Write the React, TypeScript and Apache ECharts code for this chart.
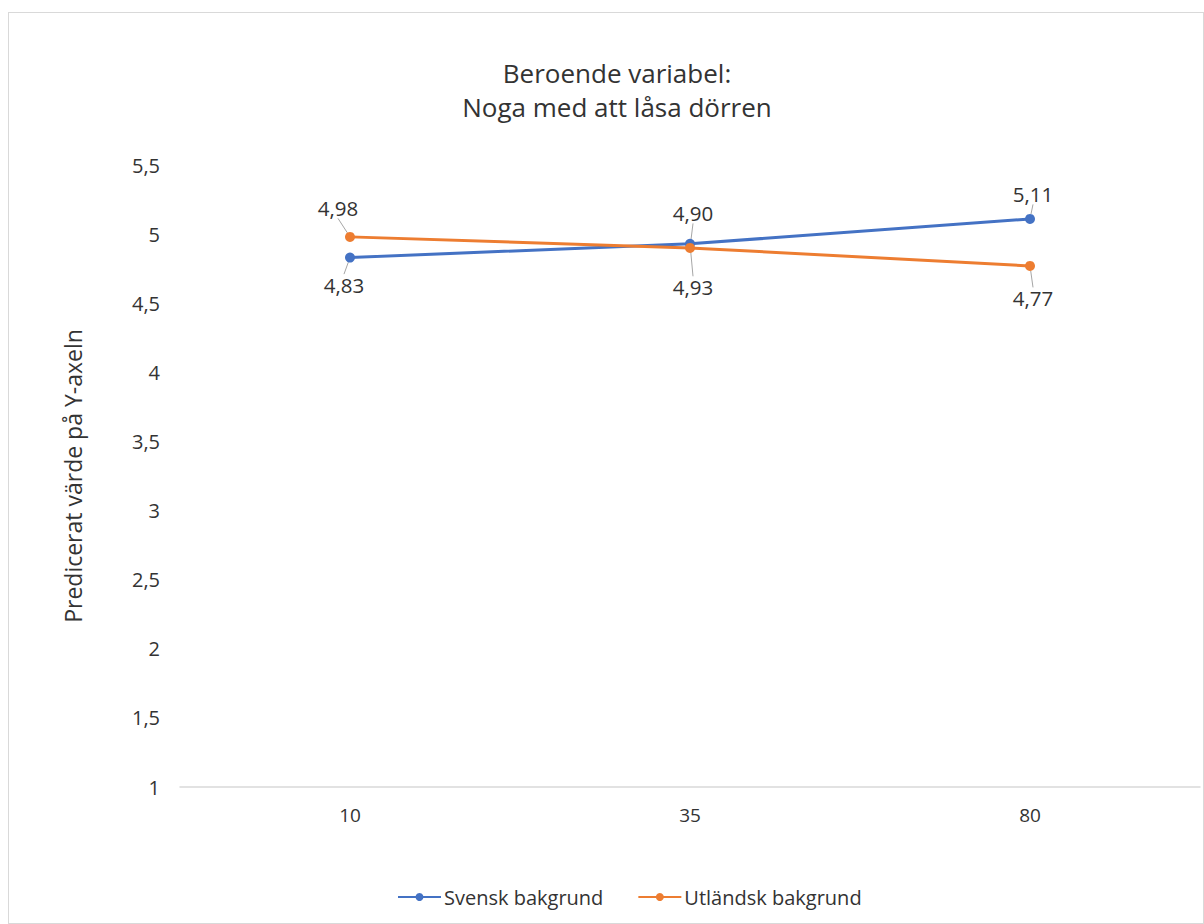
import React, { useEffect, useRef } from "react";
import * as echarts from "echarts";

const categories = ["10", "35", "80"];
const svensk = [4.83, 4.93, 5.11];
const utlandsk = [4.98, 4.9, 4.77];
const seriesNames = ["Svensk bakgrund", "Utländsk bakgrund"];
const titleText = "Beroende variabel:\nNoga med att låsa dörren";
const yAxisName = "Predicerat värde på Y-axeln";

// label displacements (px) per series / point
const labelShift = [
  [[-6, 27], [3, 43], [3, -25]],
  [[-12, -29], [3, -35], [3, 32]],
];

const FONT = "'Open Sans', 'Noto Sans', sans-serif";
const TXT = "#333333";

export default function App() {
  const ref = useRef<HTMLDivElement>(null);
  useEffect(() => {
    if (!ref.current) return;
    const chart = echarts.init(ref.current, undefined, { renderer: "svg" });
    const fmt = (v: number) => v.toFixed(2).replace(".", ",");
    const mkSeries = (name: string, data: number[], color: string, si: number) => ({
      name,
      type: "line",
      data,
      symbol: "circle",
      symbolSize: 10,
      lineStyle: { width: 3, color },
      itemStyle: { color },
      label: {
        show: true,
        position: "inside",
        formatter: (p: any) => fmt(p.value),
        fontFamily: FONT,
        fontSize: 20.5,
        color: TXT,
      },
      labelLine: { show: true, lineStyle: { color: "#a6a6a6", width: 1 } },
      labelLayout: (p: any) => ({
        dx: labelShift[si][p.dataIndex][0],
        dy: labelShift[si][p.dataIndex][1],
      }),
    });
    chart.setOption({
      animation: false,
      backgroundColor: "#ffffff",
      textStyle: { fontFamily: FONT },
      title: {
        text: titleText,
        left: 603,
        textAlign: "center",
        top: 38,
        textStyle: {
          fontFamily: FONT,
          fontSize: 26,
          fontWeight: "normal",
          color: TXT,
          lineHeight: 34,
        },
      },
      legend: {
        left: 383,
        top: 869,
        itemWidth: 43,
        itemHeight: 10,
        itemGap: 34,
        textStyle: { fontFamily: FONT, fontSize: 20, color: TXT, padding: [0, 0, 0, -2] },
        data: seriesNames,
      },
      grid: { left: 171, right: 3, top: 152, bottom: 136 },
      xAxis: {
        type: "category",
        data: categories,
        axisLine: { lineStyle: { color: "#d9d9d9", width: 1.5 } },
        axisTick: { show: false },
        axisLabel: { fontFamily: FONT, fontSize: 19, color: TXT, margin: 18 },
      },
      yAxis: {
        type: "value",
        min: 1,
        max: 5.5,
        interval: 0.5,
        name: yAxisName,
        nameLocation: "middle",
        nameGap: 96,
        nameTextStyle: { fontFamily: FONT, fontSize: 23, color: TXT },
        axisLine: { show: false },
        axisTick: { show: false },
        splitLine: { show: false },
        axisLabel: {
          fontFamily: FONT,
          fontSize: 20,
          color: TXT,
          margin: 20,
          formatter: (v: number) => String(v).replace(".", ","),
        },
      },
      series: [
        mkSeries(seriesNames[0], svensk, "#4472C4", 0),
        mkSeries(seriesNames[1], utlandsk, "#ED7D31", 1),
      ],
    });
    return () => chart.dispose();
  }, []);
  return (
    <div
      style={{
        position: "absolute",
        left: 8,
        top: 12,
        width: 1196,
        height: 912,
        border: "1px solid #d9d9d9",
        boxSizing: "border-box",
        background: "#fff",
      }}
    >
      <div ref={ref} style={{ width: 1194, height: 910 }} />
    </div>
  );
}
